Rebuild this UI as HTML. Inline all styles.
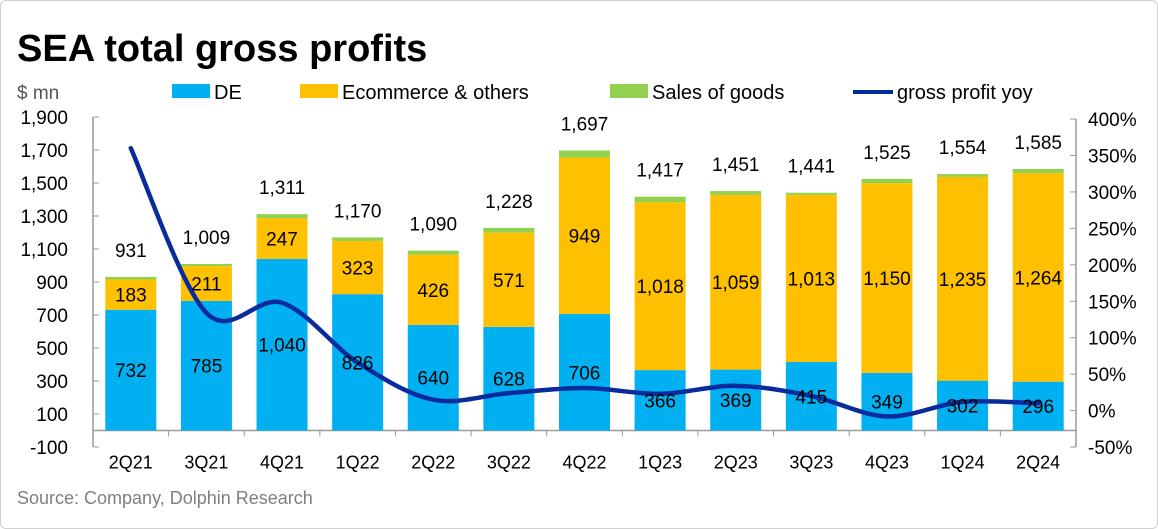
<!DOCTYPE html>
<html><head><meta charset="utf-8"><style>
body{margin:0;background:#fff;font-family:"Liberation Sans","DejaVu Sans",sans-serif}
#wrap{position:relative;width:1156px;height:527px;border:1px solid #d0d0d0;border-radius:6px;overflow:hidden}
</style></head><body>
<div id="wrap">
<svg id="c" width="1158" height="529" style="position:absolute;left:-1px;top:-1px">
<text x="17" y="61" font-size="38" font-weight="bold" fill="#000">SEA total gross profits</text>
<text x="17" y="99" font-size="19" fill="#555">$ mn</text>
<g>
<rect x="172" y="84" width="38" height="14" fill="#00b0f0"/>
<text x="214" y="99" font-size="20">DE</text>
<rect x="300" y="84" width="38" height="14" fill="#ffc000"/>
<text x="342" y="99" font-size="20">Ecommerce &amp; others</text>
<rect x="610" y="84" width="38" height="14" fill="#92d050"/>
<text x="652" y="99" font-size="20">Sales of goods</text>
<line x1="853" y1="92" x2="893" y2="92" stroke="#002d9c" stroke-width="4"/>
<text x="897" y="99" font-size="20">gross profit yoy</text>
</g>
<text x="17" y="504" font-size="18" fill="#7f7f7f">Source: Company, Dolphin Research</text>
<g id="g"></g>
</svg>
</div>
<script>
const categories=["2Q21","3Q21","4Q21","1Q22","2Q22","3Q22","4Q22","1Q23","2Q23","3Q23","4Q23","1Q24","2Q24"];
const deVals=[732,785,1040,826,640,628,706,366,369,415,349,302,296];
const ecomVals=[183,211,247,323,426,571,949,1018,1059,1013,1150,1235,1264];
const totalVals=[931,1009,1311,1170,1090,1228,1697,1417,1451,1441,1525,1554,1585];
const yoyVals=[360,134,148,66,15,24,31,23,34,20,-8,12,10];
const leftTicks=[-100,100,300,500,700,900,1100,1300,1500,1700,1900];
const rightTicks=[-50,0,50,100,150,200,250,300,350,400];
const NS="http://www.w3.org/2000/svg",g=document.getElementById('g');
const X0=93,X1=1076,step=(X1-X0)/categories.length,BW=51;
const yL=v=>430.5-v*0.165, yR=v=>410.6-v*(328/450), xc=i=>X0+step*(i+0.5);
function mk(t,a,txt){const e=document.createElementNS(NS,t);for(const k in a)e.setAttribute(k,a[k]);if(txt!=null)e.textContent=txt;g.appendChild(e);return e;}
const fmt=v=>v.toLocaleString('en-US');
// axes
let e=mk('line',{x1:X0,y1:yL(1900),x2:X0,y2:yL(-100),stroke:'#999','stroke-width':1.5});

e=mk('line',{x1:X1,y1:yR(400),x2:X1,y2:yR(-50),stroke:'#999','stroke-width':1.5});

e=mk('line',{x1:X0,y1:yL(0),x2:X1,y2:yL(0),stroke:'#999','stroke-width':1.5});

leftTicks.forEach(v=>{mk('line',{x1:X0,y1:yL(v),x2:X0+6,y2:yL(v),stroke:'#999'});
 e=mk('text',{x:X0-25,y:yL(v)+7,'font-size':19,'text-anchor':'end'},fmt(v));
 });
rightTicks.forEach(v=>{mk('line',{x1:X1-6,y1:yR(v),x2:X1,y2:yR(v),stroke:'#999'});
 e=mk('text',{x:X1+12,y:yR(v)+7,'font-size':19},v+'%');
 });
categories.forEach((c,i)=>{
 if(i>0)mk('line',{x1:X0+step*i,y1:yL(0),x2:X0+step*i,y2:yL(0)+6,stroke:'#999'});
 const x=xc(i)-BW/2, sg=totalVals[i]-deVals[i]-ecomVals[i];
 e=mk('rect',{x:x,y:yL(deVals[i]),width:BW,height:yL(0)-yL(deVals[i]),fill:'#00b0f0'});
 
 e=mk('rect',{x:x,y:yL(deVals[i]+ecomVals[i]),width:BW,height:yL(deVals[i])-yL(deVals[i]+ecomVals[i]),fill:'#ffc000'});
 
 e=mk('rect',{x:x,y:yL(totalVals[i]),width:BW,height:yL(deVals[i]+ecomVals[i])-yL(totalVals[i]),fill:'#92d050'});
 
 e=mk('text',{x:xc(i),y:yL(0)+38,'font-size':18,'text-anchor':'middle'},c);
 
});
// line
const pts=yoyVals.map((v,i)=>[xc(i),yR(v)]);
let d='M'+pts[0][0]+','+pts[0][1];
for(let i=0;i<pts.length-1;i++){const p0=pts[Math.max(i-1,0)],p1=pts[i],p2=pts[i+1],p3=pts[Math.min(i+2,pts.length-1)];
 d+=` C${p1[0]+(p2[0]-p0[0])/6},${p1[1]+(p2[1]-p0[1])/6} ${p2[0]-(p3[0]-p1[0])/6},${p2[1]-(p3[1]-p1[1])/6} ${p2[0]},${p2[1]}`;}
e=mk('path',{d:d,fill:'none',stroke:'#0a2b9c','stroke-width':4.5,'stroke-linecap':'round'});

categories.forEach((c,i)=>{
 e=mk('text',{x:xc(i),y:(yL(0)+yL(deVals[i]))/2+7,'font-size':19,'text-anchor':'middle'},fmt(deVals[i]));
 
 e=mk('text',{x:xc(i),y:(yL(deVals[i])+yL(deVals[i]+ecomVals[i]))/2+7,'font-size':19,'text-anchor':'middle'},fmt(ecomVals[i]));
 
 e=mk('text',{x:xc(i),y:yL(totalVals[i])-20,'font-size':19,'text-anchor':'middle'},fmt(totalVals[i]));
 
});
</script>
</body></html>
